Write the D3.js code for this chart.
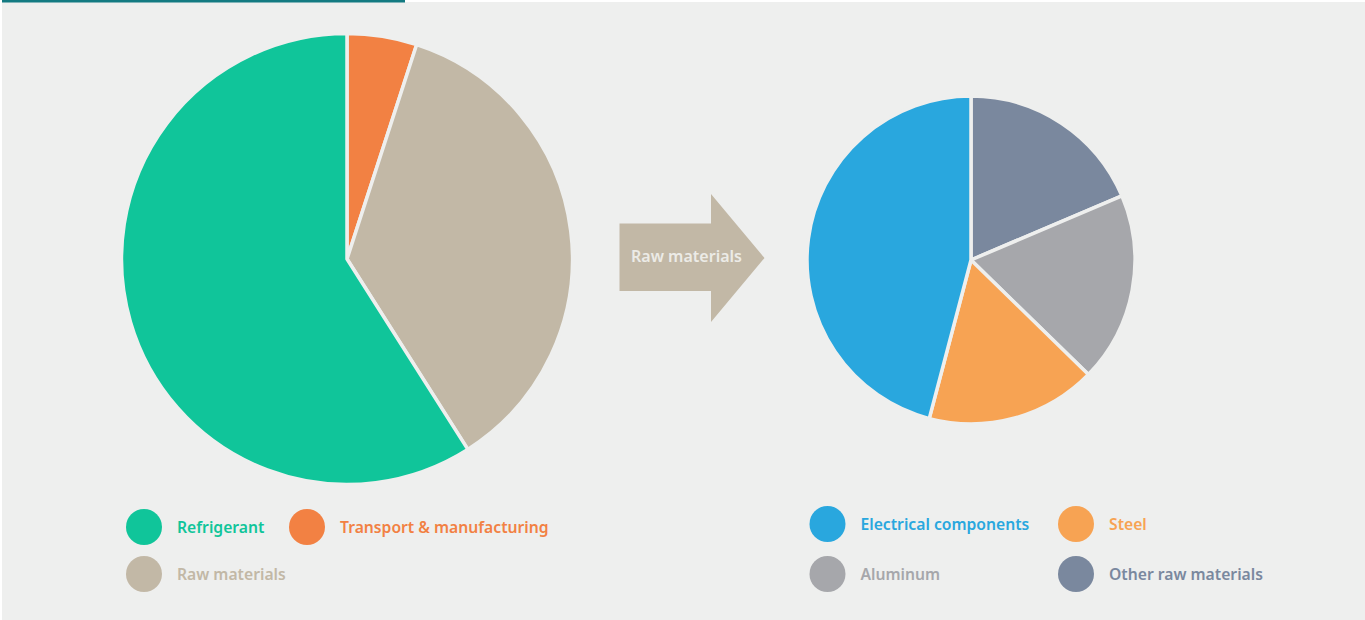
<!DOCTYPE html>
<html>
<head>
<meta charset="utf-8">
<script src="https://cdn.jsdelivr.net/npm/d3@7"></script>
<style>
  html, body { margin: 0; padding: 0; background: #ffffff; }
  svg { display: block; }
  text { font-family: "Noto Sans", "Open Sans", sans-serif; font-weight: 600; }
</style>
</head>
<body>
<svg id="chart" width="1365" height="620"></svg>
<script>
// ---- data ----
const leftCategories = ["Refrigerant", "Transport & manufacturing", "Raw materials"];
const leftValues = [59, 5, 36];
const leftColors = ["#10c59a", "#f28143", "#c2b8a6"];
const leftPieOrder = ["Transport & manufacturing", "Raw materials", "Refrigerant"];

const rightCategories = ["Electrical components", "Steel", "Aluminum", "Other raw materials"];
const rightValues = [45.9, 16.8, 18.7, 18.6];
const rightColors = ["#29a7de", "#f7a353", "#a6a7ab", "#7a889e"];
const rightPieOrder = ["Other raw materials", "Aluminum", "Steel", "Electrical components"];

const arrowLabel = "Raw materials";

// ---- layout ----
const W = 1365, H = 620;
const bg = "#eeefee";
const svg = d3.select("#chart");

svg.append("rect").attr("x", 2).attr("y", 2).attr("width", W - 2).attr("height", H - 2).attr("fill", bg);
svg.append("rect").attr("x", 2).attr("y", 0).attr("width", 403).attr("height", 2.5).attr("fill", "#137a81");

function drawPie(cats, vals, colors, order, cx, cy, r) {
  const rows = cats.map((c, i) => ({ cat: c, value: vals[i], color: colors[i] }));
  rows.sort((a, b) => order.indexOf(a.cat) - order.indexOf(b.cat));
  const pie = d3.pie().sort(null).value(d => d.value);
  const arc = d3.arc().innerRadius(0).outerRadius(r);
  svg.append("g").attr("transform", `translate(${cx},${cy})`)
    .selectAll("path").data(pie(rows)).join("path")
    .attr("d", arc)
    .attr("fill", d => d.data.color)
    .attr("stroke", bg)
    .attr("stroke-width", 3.5)
    .attr("stroke-linejoin", "round");
}

function drawLegend(cats, colors, cols, x0, y0, colW, rowH) {
  const g = svg.append("g");
  cats.forEach((c, i) => {
    const col = i % cols, row = Math.floor(i / cols);
    const x = x0 + col * colW, y = y0 + row * rowH;
    g.append("circle").attr("cx", x).attr("cy", y).attr("r", 18).attr("fill", colors[i]);
    g.append("text").attr("x", x + 33).attr("y", y).attr("dy", "0.37em")
      .attr("font-size", 15.7).attr("fill", colors[i]).text(c);
  });
}

drawPie(leftCategories, leftValues, leftColors, leftPieOrder, 347, 259, 225.5);
drawPie(rightCategories, rightValues, rightColors, rightPieOrder, 971, 260, 164);

// arrow
const ax0 = 619.5, ax1 = 711, ay0 = 223.5, ay1 = 291, hy0 = 194, hy1 = 322, tipX = 764.5, tipY = 258;
svg.append("path")
  .attr("d", d3.line()([[ax0, ay0], [ax1, ay0], [ax1, hy0], [tipX, tipY], [ax1, hy1], [ax1, ay1], [ax0, ay1]]) + "Z")
  .attr("fill", "#c2b8a6");
svg.append("text").attr("x", 686.5).attr("y", 256.5).attr("dy", "0.37em")
  .attr("text-anchor", "middle").attr("font-size", 16).attr("fill", "#ecebe6").text(arrowLabel);

drawLegend(leftCategories, leftColors, 2, 144, 527, 163, 47);
drawLegend(rightCategories, rightColors, 2, 827.5, 524, 248.5, 50);
</script>
</body>
</html>
